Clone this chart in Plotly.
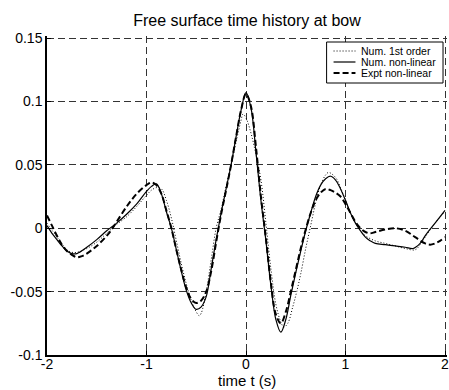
import plotly.graph_objects as go

# ---- data ----
t_nl = [-2.0, -1.95, -1.9, -1.85, -1.8, -1.75, -1.7, -1.6, -1.5, -1.4, -1.35, -1.3, -1.2, -1.1, -1.0,
        -0.95, -0.9, -0.85, -0.8, -0.75, -0.7, -0.65, -0.6, -0.55, -0.5, -0.45, -0.4, -0.35, -0.3,
        -0.25, -0.2, -0.15, -0.1, -0.05, 0.0, 0.05, 0.1, 0.15, 0.2, 0.25, 0.3, 0.35, 0.4, 0.45, 0.5,
        0.55, 0.6, 0.65, 0.7, 0.75, 0.8, 0.85, 0.9, 0.95, 1.0, 1.05, 1.1, 1.15, 1.2, 1.25, 1.3, 1.4,
        1.5, 1.6, 1.68, 1.75, 1.8, 1.9, 2.0]
v_nl = [0.002, -0.004, -0.009, -0.014, -0.018, -0.020, -0.020, -0.015, -0.009, -0.002, 0.001, 0.004, 0.011, 0.019, 0.029,
        0.033, 0.035, 0.027, 0.013, 0.000, -0.017, -0.034, -0.049, -0.059, -0.064, -0.062, -0.054, -0.032, -0.009,
        0.012, 0.031, 0.050, 0.072, 0.093, 0.107, 0.095, 0.060, 0.022, -0.010, -0.045, -0.072, -0.082, -0.072, -0.053, -0.035,
        -0.018, -0.002, 0.012, 0.025, 0.034, 0.039, 0.041, 0.038, 0.031, 0.022, 0.012, 0.004, -0.002, -0.007, -0.010, -0.012, -0.013,
        -0.014, -0.015, -0.016, -0.012, -0.006, 0.004, 0.014]

t_ex = [-2.0, -1.95, -1.9, -1.85, -1.8, -1.75, -1.7, -1.65, -1.6, -1.5, -1.4, -1.35, -1.3, -1.2, -1.1, -1.0,
        -0.95, -0.9, -0.85, -0.8, -0.75, -0.7, -0.65, -0.6, -0.55, -0.5, -0.45, -0.4, -0.35, -0.3,
        -0.25, -0.2, -0.15, -0.1, -0.05, 0.0, 0.05, 0.1, 0.15, 0.2, 0.25, 0.3, 0.35, 0.4, 0.45, 0.5,
        0.55, 0.6, 0.65, 0.7, 0.75, 0.8, 0.85, 0.9, 0.95, 1.0, 1.05, 1.1, 1.15, 1.2, 1.25, 1.3, 1.4,
        1.5, 1.6, 1.7, 1.8, 1.85, 1.9, 1.95, 2.0]
v_ex = [0.010, 0.002, -0.006, -0.013, -0.018, -0.021, -0.023, -0.022, -0.020, -0.014, -0.006, -0.001, 0.005, 0.017, 0.027, 0.034,
        0.036, 0.034, 0.027, 0.014, 0.000, -0.017, -0.033, -0.047, -0.056, -0.059, -0.057, -0.050, -0.034, -0.011,
        0.011, 0.030, 0.050, 0.072, 0.093, 0.106, 0.096, 0.064, 0.025, -0.008, -0.043, -0.068, -0.075, -0.066, -0.050, -0.033,
        -0.016, -0.001, 0.012, 0.022, 0.028, 0.031, 0.030, 0.028, 0.025, 0.019, 0.012, 0.005, 0.000, -0.003, -0.004, -0.003, -0.001,
        0.000, -0.002, -0.007, -0.012, -0.013, -0.012, -0.010, -0.007]

t_lin = [-2.0, -1.9, -1.8, -1.75, -1.7, -1.6, -1.5, -1.4, -1.3, -1.2, -1.1, -1.0, -0.95, -0.9, -0.85, -0.8,
         -0.75, -0.7, -0.65, -0.6, -0.55, -0.5, -0.47, -0.45, -0.4, -0.35, -0.3, -0.25, -0.2, -0.15, -0.1,
         -0.05, -0.03, 0.0, 0.05, 0.1, 0.15, 0.2, 0.25, 0.3, 0.35, 0.38, 0.42, 0.47, 0.51, 0.55, 0.6, 0.65,
         0.7, 0.75, 0.8, 0.83, 0.9, 0.95, 1.0, 1.05, 1.1, 1.15, 1.2, 1.3, 1.4, 1.5, 1.6, 1.7, 1.75, 1.8, 1.9, 2.0]
v_lin = [0.004, -0.007, -0.017, -0.019, -0.019, -0.016, -0.011, -0.004, 0.003, 0.009, 0.017, 0.026, 0.030, 0.032, 0.031, 0.022,
         0.008, -0.010, -0.028, -0.044, -0.057, -0.066, -0.069, -0.067, -0.050, -0.025, 0.000, 0.015, 0.033, 0.050, 0.068,
         0.085, 0.090, 0.087, 0.075, 0.058, 0.038, 0.004, -0.032, -0.060, -0.074, -0.078, -0.075, -0.062, -0.050, -0.036, -0.016, 0.002,
         0.020, 0.034, 0.042, 0.044, 0.040, 0.032, 0.022, 0.012, 0.004, -0.002, -0.006, -0.010, -0.012, -0.014, -0.016, -0.017, -0.013, -0.007, 0.004, 0.013]

series_names = ["Num. 1st order", "Num. non-linear", "Expt non-linear"]

x_ticks = [-2, -1, 0, 1, 2]
x_labels = ["-2", "-1", "0", "1", "2"]
y_ticks = [-0.1, -0.05, 0, 0.05, 0.1, 0.15]
y_labels = ["-0.1", "-0.05", "0", "0.05", "0.1", "0.15"]

FONT = "Liberation Sans, Arial, sans-serif"

# layout geometry (pixels)
W, H = 449, 390
ML, MR, MT, MB = 47, 0, 36, 35
PW, PH = W - ML - MR, H - MT - MB


def px(xp):
    return (xp - ML) / PW


def py(yp):
    return (H - MB - yp) / PH


styles = [
    dict(color="black", width=1, dash="1px,2px"),
    dict(color="black", width=1.2, dash="solid"),
    dict(color="black", width=2, dash="6px,3px"),
]

fig = go.Figure()
for (tt, vv), name, st in zip([(t_lin, v_lin), (t_nl, v_nl), (t_ex, v_ex)], series_names, styles):
    fig.add_trace(go.Scatter(x=tt, y=vv, mode="lines", name=name,
                             line=dict(shape="spline", **st), showlegend=False))

axis_common = dict(showgrid=True, gridcolor="#333333", griddash="7px,4px", gridwidth=1,
                   zeroline=False, showline=True, linecolor="black", linewidth=1.5,
                   ticks="inside", ticklen=4, tickcolor="black",
                   tickfont=dict(family=FONT, size=14, color="black"))

# manual legend (MATLAB style, compact)
shapes = [dict(type="rect", xref="paper", yref="paper", x0=px(328), x1=px(445), y0=py(83), y1=py(42),
               line=dict(color="black", width=1), fillcolor="white", layer="above")]
annotations = []
rows = [51, 62, 73]
for r, name, st in zip(rows, series_names, styles):
    shapes.append(dict(type="line", xref="paper", yref="paper", x0=px(335), x1=px(357), y0=py(r), y1=py(r),
                       line=st, layer="above"))
    annotations.append(dict(xref="paper", yref="paper", x=px(361), y=py(r), xanchor="left", yanchor="middle",
                            text=name, showarrow=False, font=dict(family=FONT, size=10.5, color="black")))

# x axis title placed explicitly
annotations.append(dict(xref="paper", yref="paper", x=px(248), y=py(380.5), xanchor="center", yanchor="middle",
                        text="time t (s)", showarrow=False, font=dict(family=FONT, size=15, color="black")))

fig.update_layout(
    width=W, height=H,
    margin=dict(l=ML, r=MR, t=MT, b=MB),
    plot_bgcolor="white", paper_bgcolor="white",
    font=dict(family=FONT, color="black"),
    title=dict(text="Free surface time history at bow", x=247 / W, xanchor="center",
               y=1 - 20.5 / H, yanchor="middle", font=dict(family=FONT, size=16, color="black")),
    xaxis=dict(range=[-2, 2.02], tickvals=x_ticks, ticktext=x_labels, ticklabeloverflow="allow",
               ticklabelstandoff=-5, **axis_common),
    yaxis=dict(range=[-0.1, 0.1516], tickvals=y_ticks, ticktext=y_labels, **axis_common),
    shapes=shapes,
    annotations=annotations,
    showlegend=False,
)

fig.write_html("out.html")
